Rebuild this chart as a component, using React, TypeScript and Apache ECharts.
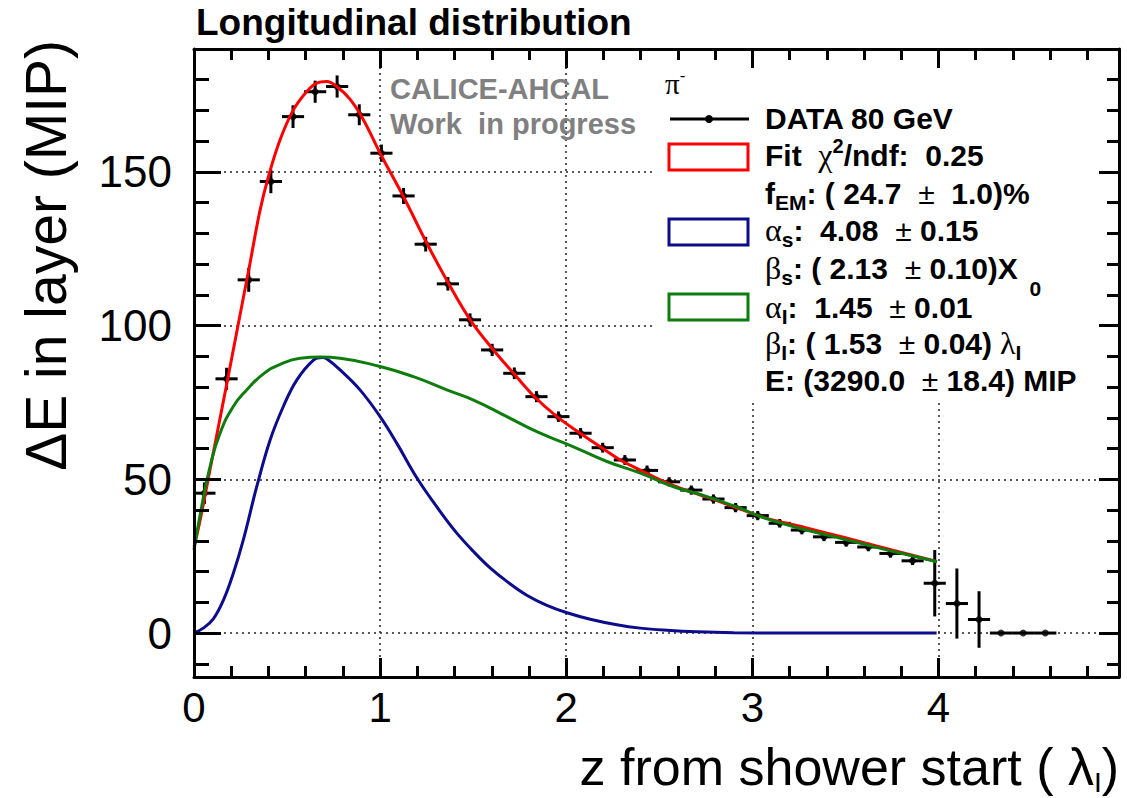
import React, { useEffect, useRef } from "react";
import * as echarts from "echarts";

// ---------------- data ----------------
const binCenters = [
  0.056, 0.175, 0.294, 0.413, 0.532, 0.651, 0.769, 0.888, 1.007, 1.126,
  1.245, 1.364, 1.483, 1.602, 1.721, 1.84, 1.958, 2.077, 2.196, 2.315,
  2.434, 2.553, 2.672, 2.791, 2.91, 3.029, 3.147, 3.266, 3.385, 3.504,
  3.623, 3.742, 3.861, 3.98, 4.099, 4.218, 4.336, 4.455, 4.574,
];
const binHalfWidth = 0.0595;
const dataE = [
  45.5, 82.7, 114.9, 146.9, 168.0, 176.1, 177.8, 168.6, 156.1, 142.2,
  126.5, 113.6, 101.9, 92.1, 84.5, 76.9, 70.4, 65.0, 60.3, 56.3,
  52.9, 49.2, 46.5, 43.6, 40.8, 38.2, 35.7, 33.5, 31.3, 29.5,
  28.0, 25.9, 23.5, 16.2, 9.6, 4.4, 0, 0, 0,
];
const dataErr = [
  3.5, 3.6, 3.9, 3.8, 3.7, 3.6, 3.6, 3.4, 2.8, 2.6,
  2.4, 2.2, 2.1, 2.0, 1.9, 1.8, 1.7, 1.7, 1.6, 1.6,
  1.6, 1.5, 1.5, 1.5, 1.5, 1.5, 1.4, 1.4, 1.4, 1.4,
  1.4, 1.4, 1.4, 10.8, 11.4, 9.2, 0, 0, 0,
];

const fitCurve = [
  [0, 28], [0.027, 35], [0.06, 45], [0.1, 57.5], [0.15, 73], [0.2, 88.6],
  [0.263, 108.4], [0.3, 120], [0.355, 137.6], [0.4, 148.5], [0.462, 160.4],
  [0.534, 170.2], [0.606, 176.2], [0.66, 178.9], [0.713, 179.4], [0.767, 177.8],
  [0.839, 173.6], [0.91, 167], [1.0, 156.1], [1.125, 142], [1.251, 126.8],
  [1.367, 113.8], [1.484, 101.9], [1.609, 92.1], [1.717, 84.5], [1.824, 77.2],
  [1.95, 70.4], [2.075, 65], [2.183, 60.6], [2.29, 56.3], [2.398, 53],
  [2.505, 49.8], [2.613, 47.1], [2.72, 44.9], [2.828, 42.7], [2.935, 40.3],
  [3.079, 37.3], [3.25, 34.8], [3.5, 31], [3.75, 27], [3.99, 23.3],
];
const longCurve = [
  [0, 27], [0.041, 41.1], [0.086, 54.1], [0.14, 65], [0.211, 73.7], [0.283, 79.1],
  [0.373, 84.3], [0.462, 87.4], [0.57, 89.4], [0.68, 89.8], [0.785, 89.4],
  [1.0, 86.7], [1.179, 83.4], [1.358, 79.1], [1.502, 75.8], [1.681, 70.4],
  [1.86, 65], [2.039, 60.6], [2.219, 55.8], [2.398, 52], [2.577, 47.6],
  [2.756, 44.4], [2.935, 40.6], [3.043, 37.9], [3.222, 34.6], [3.401, 31.9],
  [3.581, 29.2], [3.76, 26.5], [3.992, 23.2],
];
const shortCurve = [
  [0, 0], [0.05, 1.6], [0.104, 4.6], [0.158, 10.7], [0.211, 19.4], [0.265, 30.3],
  [0.337, 47.6], [0.409, 62.8], [0.48, 73.7], [0.552, 82.3], [0.642, 88.8],
  [0.69, 89.6], [0.713, 89.2], [0.785, 85.6], [0.892, 79.1], [1.0, 70.4],
  [1.09, 61.7], [1.197, 50.5], [1.323, 39.5], [1.412, 32.5], [1.502, 26.5],
  [1.591, 21.2], [1.681, 16.8], [1.788, 12.3], [1.896, 9.0], [2.004, 6.6],
  [2.129, 4.5], [2.272, 2.7], [2.398, 1.6], [2.541, 0.9], [2.702, 0.4],
  [2.9, 0.1], [3.2, 0], [3.99, 0],
];

const xMajor = [0, 1, 2, 3, 4];
const xMinor = [0.2, 0.4, 0.6, 0.8, 1.2, 1.4, 1.6, 1.8, 2.2, 2.4, 2.6, 2.8, 3.2, 3.4, 3.6, 3.8, 4.2, 4.4, 4.6, 4.8];
const xGrid = [1, 2, 3, 4];
const yMajor = [0, 50, 100, 150];
const yMinor = [-10, 10, 20, 30, 40, 60, 70, 80, 90, 110, 120, 130, 140, 160, 170, 180];

const titleText = "Longitudinal distribution";
const xTitle = "z from shower start ( λ{sub|I})";
const yTitle = "ΔE in layer (MIP)";
const watermark = ["CALICE-AHCAL", "Work  in progress"];
const legendLines = [
  "DATA 80 GeV",
  "Fit  {g|χ}{sup|2}/ndf:  0.25",
  "f{sub|EM}: ( 24.7  {pm|±}  1.0)%",
  "{g|α}{sub|s}:  4.08  {pm|±} 0.15",
  "{g|β}{sub|s}: ( 2.13  {pm|±} 0.10)X{sub0|  0}",
  "{g|α}{sub|I}:  1.45  {pm|±} 0.01",
  "{g|β}{sub|I}: ( 1.53  {pm|±} 0.04){g| λ}{sub|I}",
  "E: (3290.0  {pm|±} 18.4) MIP",
];

// ---------------- styling ----------------
const FONT = "'Liberation Sans', Arial, Helvetica, sans-serif";
const SERIF = "'Liberation Serif', 'DejaVu Serif', serif";
const X_MIN = 0, X_MAX = 4.97, Y_MIN = -14.3, Y_MAX = 190;
const RED = "#ff0000", BLUE = "#0c0c8c", GREEN = "#0e7d0e";
const LEG_FS = 30;

const richStyles = {
  g: { fontFamily: SERIF, fontSize: 32, fontWeight: "normal", fill: "#000", color: "#000" },
  sub: { fontFamily: FONT, fontSize: 21, fontWeight: "bold", padding: [18, 0, 0, 0], fill: "#000", color: "#000" },
  sub0: { fontFamily: FONT, fontSize: 21, fontWeight: "bold", padding: [40, 0, 0, 0], fill: "#000", color: "#000" },
  sup: { fontFamily: FONT, fontSize: 20, fontWeight: "bold", padding: [0, 0, 18, 0], fill: "#000", color: "#000" },
  pm: { fontFamily: FONT, fontSize: LEG_FS, fontWeight: "normal", fill: "#000", color: "#000" },
};

function xAxisBase(extra: any) {
  return {
    type: "value", min: X_MIN, max: X_MAX, gridIndex: 0,
    axisLine: { show: false, onZero: false },
    axisTick: { show: false },
    axisLabel: { show: false },
    splitLine: { show: false },
    z: 10,
    ...extra,
  };
}
function yAxisBase(extra: any) {
  return {
    type: "value", min: Y_MIN, max: Y_MAX, gridIndex: 0,
    axisLine: { show: false, onZero: false },
    axisTick: { show: false },
    axisLabel: { show: false },
    splitLine: { show: false },
    z: 10,
    ...extra,
  };
}
const blackLine = { color: "#000", width: 3 };

export default function App() {
  const ref = useRef<HTMLDivElement>(null);
  useEffect(() => {
    document.body.style.margin = "0";
    if (!ref.current) return;
    const chart = echarts.init(ref.current, null, { renderer: "svg" });

    const errData = binCenters.map((x, i) => [x, dataE[i], binHalfWidth, dataErr[i]]);
    const ptData = binCenters.map((x, i) => [x, dataE[i]]);

    const legendY = [118, 155, 193, 230, 268, 307, 343, 380];

    const option: any = {
      animation: false,
      backgroundColor: "#fff",
      title: {
        text: titleText, left: 191, top: -1,
        textStyle: { fontFamily: FONT, fontSize: 37, fontWeight: "bold", color: "#000" },
      },
      grid: { left: 194, right: 8, top: 49, bottom: 121, outerBoundsMode: "none", containLabel: false },
      xAxis: [
        xAxisBase({
          position: "bottom",
          axisLine: { show: true, onZero: false, lineStyle: blackLine },
          axisTick: { show: true, inside: true, length: 19, customValues: xMajor, lineStyle: blackLine },
          axisLabel: { show: true, customValues: xMajor, margin: 9, fontSize: 42, fontFamily: FONT, color: "#000" },
          name: xTitle, nameLocation: "end", nameGap: 0, nameMoveOverlap: false,
          nameTextStyle: {
            fontFamily: FONT, fontSize: 52, color: "#000", align: "right", verticalAlign: "middle",
            padding: [180, 0, 0, 0],
            rich: { sub: { fontFamily: FONT, fontSize: 28, padding: [30, 0, 0, 0], color: "#000" } },
          },
        }),
        xAxisBase({
          position: "bottom",
          axisTick: { show: true, inside: true, length: 11, customValues: xMinor, lineStyle: blackLine },
        }),
        xAxisBase({
          position: "top",
          axisLine: { show: true, onZero: false, lineStyle: blackLine },
          axisTick: { show: true, inside: true, length: 19, customValues: xMajor, lineStyle: blackLine },
        }),
        xAxisBase({
          position: "top",
          axisTick: { show: true, inside: true, length: 11, customValues: xMinor, lineStyle: blackLine },
        }),
        xAxisBase({
          position: "bottom", z: 0,
          axisTick: { show: false, customValues: xGrid },
          splitLine: { show: true, lineStyle: { color: "#222", width: 1.5, type: [2, 4] } },
        }),
      ],
      yAxis: [
        yAxisBase({
          position: "left",
          axisLine: { show: true, onZero: false, lineStyle: blackLine },
          axisTick: { show: true, inside: true, length: 27, customValues: yMajor, lineStyle: blackLine },
          axisLabel: { show: true, customValues: yMajor, margin: 22, fontSize: 44, fontFamily: FONT, color: "#000" },
        }),
        yAxisBase({
          position: "left",
          axisTick: { show: true, inside: true, length: 15, customValues: yMinor, lineStyle: blackLine },
        }),
        yAxisBase({
          position: "right",
          axisLine: { show: true, onZero: false, lineStyle: blackLine },
          axisTick: { show: true, inside: true, length: 20, customValues: yMajor, lineStyle: blackLine },
        }),
        yAxisBase({
          position: "right",
          axisTick: { show: true, inside: true, length: 12, customValues: yMinor, lineStyle: blackLine },
        }),
        yAxisBase({
          position: "left", z: 0,
          axisTick: { show: false, customValues: yMajor },
          splitLine: { show: true, lineStyle: { color: "#222", width: 1.5, type: [2, 4] } },
        }),
      ],
      series: [
        {
          name: "DATA 80 GeV errors", type: "custom", xAxisIndex: 0, yAxisIndex: 0, z: 2,
          data: errData, encode: { x: 0, y: 1 },
          renderItem: (_p: any, api: any) => {
            const x = api.value(0), y = api.value(1), ex = api.value(2), ey = api.value(3);
            const l = api.coord([x - ex, y]);
            const r = api.coord([x + ex, y]);
            const t = api.coord([x, y + ey]);
            const b = api.coord([x, y - ey]);
            return {
              type: "group",
              children: [
                { type: "line", shape: { x1: l[0], y1: l[1], x2: r[0], y2: r[1] }, style: { stroke: "#000", lineWidth: 3 } },
                { type: "line", shape: { x1: t[0], y1: t[1], x2: b[0], y2: b[1] }, style: { stroke: "#000", lineWidth: 3 } },
              ],
            };
          },
        },
        {
          name: "DATA 80 GeV", type: "scatter", xAxisIndex: 0, yAxisIndex: 0, z: 2,
          data: ptData, symbol: "circle", symbolSize: 7, itemStyle: { color: "#000" },
        },
        {
          name: "Fit", type: "line", xAxisIndex: 0, yAxisIndex: 0, z: 3,
          data: fitCurve, smooth: 0.4, showSymbol: false, lineStyle: { color: RED, width: 3 },
        },
        {
          name: "short", type: "line", xAxisIndex: 0, yAxisIndex: 0, z: 4,
          data: shortCurve, smooth: 0.4, showSymbol: false, lineStyle: { color: BLUE, width: 3 },
        },
        {
          name: "long", type: "line", xAxisIndex: 0, yAxisIndex: 0, z: 4,
          data: longCurve, smooth: 0.5, showSymbol: false, lineStyle: { color: GREEN, width: 3 },
        },
      ],
      graphic: [
        { type: "rect", z: 1, shape: { x: 653, y: 51, width: 464, height: 352 }, style: { fill: "#fff" } },
        {
          type: "text", z: 20, x: 46, y: 40, rotation: Math.PI / 2,
          style: {
            text: yTitle, fontFamily: FONT, fontSize: 57, fill: "#000",
            align: "right", verticalAlign: "middle", textAlign: "right", textVerticalAlign: "middle",
          },
        },
        ...watermark.map((t, i) => ({
          type: "text", z: 20, x: 390, y: 89 + i * 35,
          style: {
            text: t, fontFamily: FONT, fontSize: 29, fontWeight: "bold", fill: "#808080",
            align: "left", verticalAlign: "middle", textAlign: "left", textVerticalAlign: "middle",
          },
        })),
        {
          type: "text", z: 20, x: 665, y: 84,
          style: {
            text: "π{sup|-}", fontFamily: SERIF, fontSize: 29, fill: "#000",
            align: "left", verticalAlign: "middle", textAlign: "left", textVerticalAlign: "middle",
            rich: { sup: { fontFamily: FONT, fontSize: 17, padding: [0, 0, 18, 0], fill: "#000", color: "#000" } },
          },
        },
        { type: "line", z: 20, shape: { x1: 670, y1: 119, x2: 749, y2: 119 }, style: { stroke: "#000", lineWidth: 3 } },
        { type: "circle", z: 20, shape: { cx: 709, cy: 119, r: 4 }, style: { fill: "#000" } },
        { type: "rect", z: 20, shape: { x: 669, y: 144, width: 79, height: 26 }, style: { fill: "#fff", stroke: RED, lineWidth: 3 } },
        { type: "rect", z: 20, shape: { x: 669, y: 219, width: 79, height: 26 }, style: { fill: "#fff", stroke: BLUE, lineWidth: 3 } },
        { type: "rect", z: 20, shape: { x: 669, y: 294, width: 79, height: 26 }, style: { fill: "#fff", stroke: GREEN, lineWidth: 3 } },
        ...legendLines.map((t, i) => ({
          type: "text", z: 20, x: 765, y: legendY[i],
          style: {
            text: t, fontFamily: FONT, fontSize: LEG_FS, fontWeight: "bold", fill: "#000",
            align: "left", verticalAlign: "middle", textAlign: "left", textVerticalAlign: "middle",
            rich: richStyles,
          },
        })),
      ],
    };
    chart.setOption(option);
    return () => chart.dispose();
  }, []);
  return <div ref={ref} style={{ width: 1127, height: 798 }} />;
}
